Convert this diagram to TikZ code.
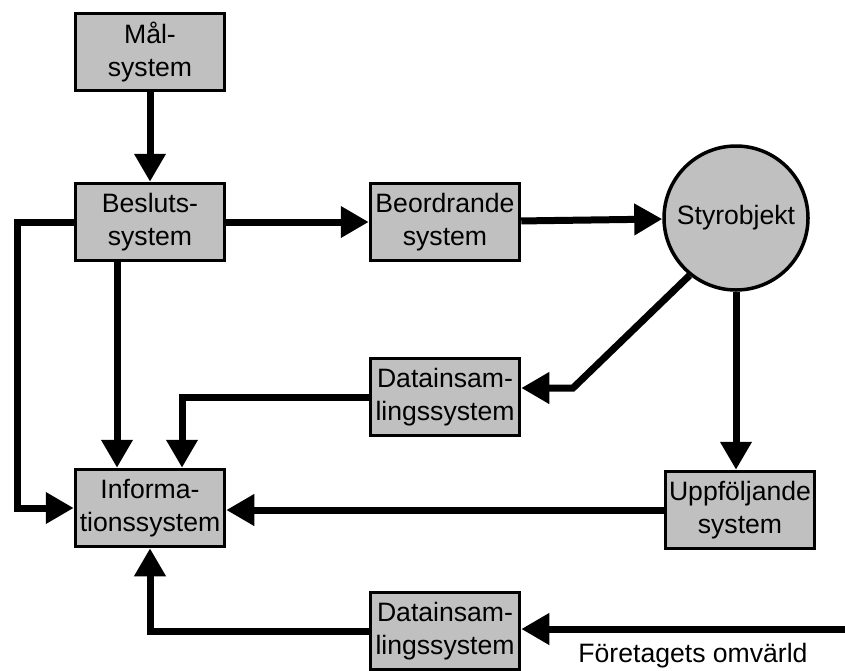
\documentclass[tikz,border=0pt]{standalone}
\usepackage{fontspec}
\setmainfont{Liberation Sans}
\usetikzlibrary{arrows.meta}
\begin{document}
\begin{tikzpicture}[x=1pt,y=-1pt,
  boxfont/.style={font=\fontsize{26.6}{33}\selectfont},
  sysbox/.style={draw=black,line width=3.5pt,fill={rgb,255:red,192;green,192;blue,192},
    minimum width=149pt,minimum height=77pt,inner sep=0pt,align=center,boxfont},
  flow/.style={line width=7pt},
  arr/.style={flow,-{Triangle[length=28pt,width=30pt]}}]
\useasboundingbox (0,0) rectangle (845,670);

% boxes
\node[sysbox] (mal) at (150,52) {Mål-\\system};
\node[sysbox] (bes) at (150,222) {Besluts-\\system};
\node[sysbox] (beo) at (445,222) {Beordrande\\system};
\node[sysbox] (dat1) at (445,397) {Datainsam-\\lingssystem};
\node[sysbox] (inf) at (150,508) {Informa-\\tionssystem};
\node[sysbox] (upp) at (740,510) {Uppföljande\\system};
\node[sysbox] (dat2) at (445,631) {Datainsam-\\lingssystem};
\node[draw=black,line width=3.5pt,fill={rgb,255:red,192;green,192;blue,192},
  circle,minimum size=144pt,inner sep=0pt,boxfont]
  (sty) at (736,218) {Styrobjekt};
\node[boxfont] (omv) at (693,656) {Företagets omvärld};

% helper points
\coordinate (lft) at (17,0);
\coordinate (bend) at (573,388);
\coordinate (edge) at (845,629);

% connectors
\draw[arr] (mal) -- (bes);
\draw[arr] (bes) -- (beo);
\draw[arr] (beo) -- (sty);
\draw[arr] (bes.west) -- (bes.west -| lft) -- (inf.west -| lft) -- (inf.west);
\draw[arr] (bes.south -| 117,0) -- (inf.north -| 117,0);
\draw[arr] (dat1.west) -- (dat1.west -| 182,0) -- (inf.north -| 182,0);
\draw[arr] (sty.231) -- (bend) -- (dat1.east |- bend);
\draw[arr] (sty.south) -- (sty.south |- upp.north);
\draw[arr] (upp.west) -- (upp.west -| inf.east);
\draw[arr] (edge) -- (dat2.east |- edge);
\draw[arr] (dat2.west) -- (dat2.west -| inf.south) -- (inf.south);
\end{tikzpicture}
\end{document}
